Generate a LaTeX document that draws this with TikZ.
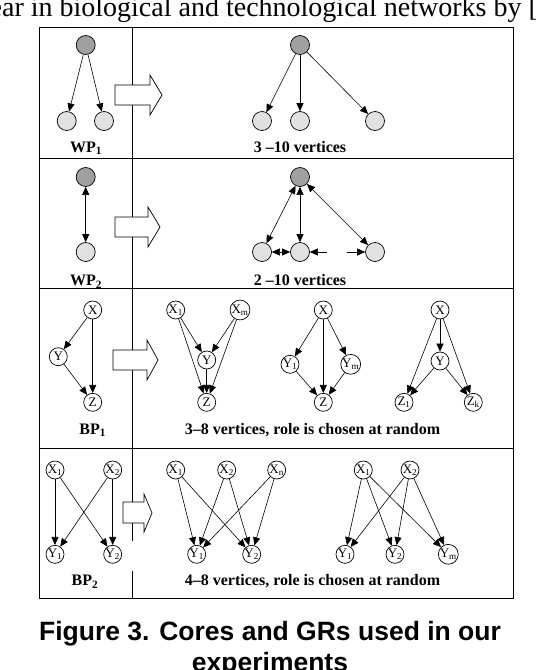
\documentclass[tikz,border=0pt]{standalone}
\usepackage{fontspec}
\setmainfont{Liberation Serif}
\newfontfamily\capfont{Liberation Sans}
\usetikzlibrary{arrows.meta}
\definecolor{darkg}{RGB}{160,160,160}
\definecolor{lightg}{RGB}{225,225,225}
\begin{document}
\begin{tikzpicture}[x=1pt,y=-1pt,
  nd/.style={circle, draw, line width=0.7pt, inner sep=0pt},
  dk/.style={nd, fill=darkg, minimum size=19pt},
  lt/.style={nd, fill=lightg, minimum size=19pt},
  vn/.style={nd, fill=white, minimum size=18pt, font=\fontsize{13}{13}\selectfont},
  tip/.tip={Triangle[length=8pt,width=7pt]},
  arr/.style={-tip, line width=0.6pt},
  darr/.style={tip-tip, line width=0.6pt},
  lbl/.style={anchor=base, font=\bfseries\fontsize{16}{16}\selectfont},
  frame/.style={line width=0.8pt},
  bigarr/.style={draw, fill=white, line width=0.7pt},
  captxt/.style={anchor=base, inner sep=0pt, font=\capfont\bfseries\fontsize{26.5}{30}\selectfont}
]
\useasboundingbox (0,0) rectangle (536,670);
\clip (0,0) rectangle (536,670);

% top cropped text
\node[anchor=base east, inner sep=0pt, font=\fontsize{28}{28}\selectfont] (toptext) at (538,16) {ear in biological and technological networks by [};

% table frame
\draw[frame] (39,27) rectangle (513,598);
\draw[frame] (39,158) -- (513,158);
\draw[frame] (39,288) -- (513,288);
\draw[frame] (39,448) -- (513,448);
\draw[frame] (132,27) -- (132,541);
\draw[frame] (132,571) -- (132,598);

% big arrows
\draw[bigarr] (115,85) -- (150,85) -- (150,75) -- (162,95) -- (150,115) -- (150,105) -- (115,105) -- cycle;
\draw[bigarr] (115,217) -- (148,217) -- (148,207) -- (160,227) -- (148,247) -- (148,237) -- (115,237) -- cycle;
\draw[bigarr] (113,350) -- (147,350) -- (147,340) -- (158,360) -- (147,380) -- (147,370) -- (113,370) -- cycle;
\draw[bigarr] (123,502) -- (144,502) -- (144,494) -- (152,513) -- (144,532) -- (144,523) -- (123,523) -- cycle;

% ---- Row 1 ----
\node[dk] (a1) at (85.7,45) {};
\node[lt] (a2) at (66.7,121) {};
\node[lt] (a3) at (104,121) {};
\draw[arr] (a1) -- (a2);
\draw[arr] (a1) -- (a3);
\node[lbl] (wp1) at (86,152) {WP\textsubscript{1}};

\node[dk] (b1) at (300,45) {};
\node[lt] (b2) at (262,121) {};
\node[lt] (b3) at (300,121) {};
\node[lt] (b4) at (375,121) {};
\draw[arr] (b1) -- (b2);
\draw[arr] (b1) -- (b3);
\draw[arr] (b1) -- (b4);
\node[lbl] (t1) at (300,152) {3 –10 vertices};

% ---- Row 2 ----
\node[dk] (c1) at (85.7,177) {};
\node[lt] (c2) at (85.7,252) {};
\draw[darr] (c1) -- (c2);
\node[lbl] (wp2) at (86,285.7) {WP\textsubscript{2}};

\node[dk] (d1) at (300,177) {};
\node[lt] (d2) at (262,252) {};
\node[lt] (d3) at (300,252) {};
\node[lt] (d4) at (375,252) {};
\coordinate (e1) at (327,252);
\coordinate (e2) at (347,252);
\draw[darr] (d1) -- (d2);
\draw[darr] (d1) -- (d3);
\draw[darr] (d1) -- (d4);
\draw[darr] (d2) -- (d3);
\draw[arr] (e1) -- (d3);
\draw[arr] (e2) -- (d4);
\node[lbl] (t2) at (300,285.7) {2 –10 vertices};

% ---- Row 3 ----
\node[vn] (fx) at (92.7,310) {X};
\node[vn] (fy) at (58.3,356.7) {Y};
\node[vn] (fz) at (92.7,402.3) {Z};
\draw[arr] (fx) -- (fy);
\draw[arr] (fy) -- (fz);
\draw[arr] (fx) -- (fz);
\node[lbl] (bp1) at (92.7,434) {BP\textsubscript{1}};

\node[vn] (gx1) at (175.7,310) {X\textsubscript{1}};
\node[vn] (gxm) at (240,310) {X\textsubscript{m}};
\node[vn] (gy) at (206.7,360) {Y};
\node[vn] (gz) at (206.7,402.3) {Z};
\draw[arr] (gx1) -- (gy);
\draw[arr] (gxm) -- (gy);
\draw[arr] (gx1) -- (gz);
\draw[arr] (gxm) -- (gz);
\draw[arr] (gy) -- (gz);

\node[vn] (hx) at (323.3,310) {X};
\node[vn] (hy1) at (290,364.3) {Y\textsubscript{1}};
\node[vn] (hym) at (350.7,364.3) {Y\textsubscript{m}};
\node[vn] (hz) at (323.3,402.3) {Z};
\draw[arr] (hx) -- (hy1);
\draw[arr] (hx) -- (hym);
\draw[arr] (hx) -- (hz);
\draw[arr] (hy1) -- (hz);
\draw[arr] (hym) -- (hz);

\node[vn] (ix) at (440,310) {X};
\node[vn] (iy) at (440,361) {Y};
\node[vn] (iz1) at (404,402.3) {Z\textsubscript{1}};
\node[vn] (izk) at (473.3,402.3) {Z\textsubscript{k}};
\draw[arr] (ix) -- (iy);
\draw[arr] (ix) -- (iz1);
\draw[arr] (ix) -- (izk);
\draw[arr] (iy) -- (iz1);
\draw[arr] (iy) -- (izk);
\node[lbl] (t3) at (312.5,434) {3–8 vertices, role is chosen at random};

% ---- Row 4 ----
\node[vn] (jx1) at (55,470) {X\textsubscript{1}};
\node[vn] (jx2) at (112.7,470) {X\textsubscript{2}};
\node[vn] (jy1) at (55,554.3) {Y\textsubscript{1}};
\node[vn] (jy2) at (112.7,554.3) {Y\textsubscript{2}};
\draw[arr] (jx1) -- (jy1);
\draw[arr] (jx1) -- (jy2);
\draw[arr] (jx2) -- (jy1);
\draw[arr] (jx2) -- (jy2);
\node[lbl] (bp2) at (85,585.7) {BP\textsubscript{2}};

\node[vn] (kx1) at (175.7,470) {X\textsubscript{1}};
\node[vn] (kx2) at (226.7,470) {X\textsubscript{2}};
\node[vn] (kxn) at (276.7,470) {X\textsubscript{n}};
\node[vn] (ky1) at (196.7,554.3) {Y\textsubscript{1}};
\node[vn] (ky2) at (251.7,554.3) {Y\textsubscript{2}};
\foreach \s in {kx1,kx2,kxn}{\foreach \t in {ky1,ky2}{\draw[arr] (\s) -- (\t);}}

\node[vn] (lx1) at (363.3,470) {X\textsubscript{1}};
\node[vn] (lx2) at (410,470) {X\textsubscript{2}};
\node[vn] (ly1) at (345,554.3) {Y\textsubscript{1}};
\node[vn] (ly2) at (395,554.3) {Y\textsubscript{2}};
\node[vn] (lym) at (448.3,554.3) {Y\textsubscript{m}};
\foreach \s in {lx1,lx2}{\foreach \t in {ly1,ly2,lym}{\draw[arr] (\s) -- (\t);}}
\node[lbl] (t4) at (312.5,585.7) {4–8 vertices, role is chosen at random};

% caption
\node[captxt] (cap1) at (270,640) {Figure 3. Cores and GRs used in our};
\node[captxt] (cap2) at (270,671) {experiments};
\end{tikzpicture}
\end{document}
